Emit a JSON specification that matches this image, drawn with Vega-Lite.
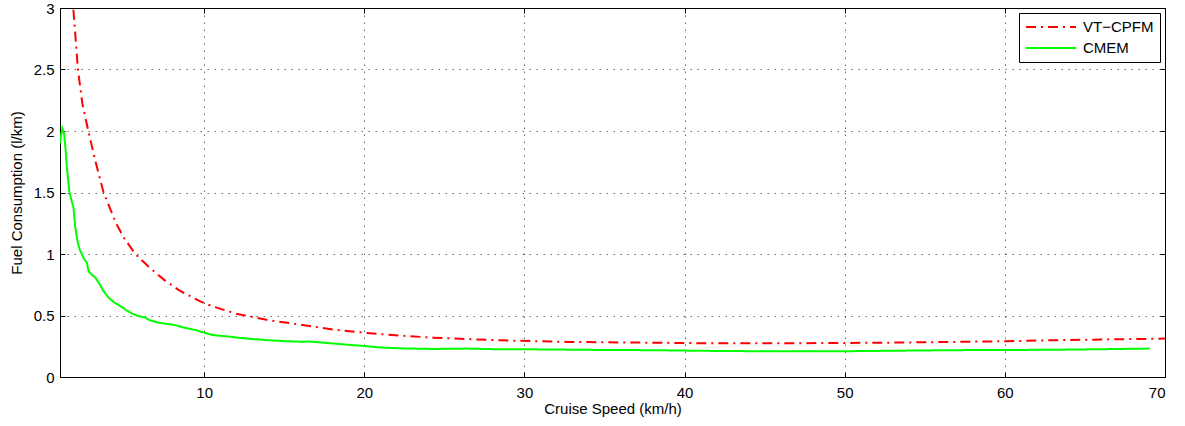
{
  "$schema": "https://vega.github.io/schema/vega-lite/v6.json",
  "width": 1105,
  "height": 369,
  "autosize": "none",
  "padding": {"left": 60, "top": 8, "right": 20, "bottom": 49},
  "background": "white",
  "config": {
    "font": "Liberation Sans",
    "view": {"stroke": "black", "strokeWidth": 1},
    "axis": {
      "labelFont": "Liberation Sans",
      "titleFont": "Liberation Sans",
      "labelFontSize": 15,
      "titleFontSize": 15,
      "titleFontWeight": "normal",
      "labelColor": "black",
      "titleColor": "black",
      "domainColor": "black",
      "tickColor": "black",
      "gridColor": "#444444",
      "gridOpacity": 0.8,
      "gridDash": [1.5, 5.5],
      "gridWidth": 1
    }
  },
  "data": {
    "values": [
      {"speed": 1.5, "fuel": 3.7, "model": "VT−CPFM"},
      {"speed": 1.83, "fuel": 3.0, "model": "VT−CPFM"},
      {"speed": 2.12, "fuel": 2.5, "model": "VT−CPFM"},
      {"speed": 2.4, "fuel": 2.22, "model": "VT−CPFM"},
      {"speed": 2.77, "fuel": 2.0, "model": "VT−CPFM"},
      {"speed": 3.2, "fuel": 1.76, "model": "VT−CPFM"},
      {"speed": 3.72, "fuel": 1.5, "model": "VT−CPFM"},
      {"speed": 4.5, "fuel": 1.25, "model": "VT−CPFM"},
      {"speed": 5.0, "fuel": 1.13, "model": "VT−CPFM"},
      {"speed": 5.7, "fuel": 1.0, "model": "VT−CPFM"},
      {"speed": 6.5, "fuel": 0.9, "model": "VT−CPFM"},
      {"speed": 7.5, "fuel": 0.79, "model": "VT−CPFM"},
      {"speed": 8.5, "fuel": 0.7, "model": "VT−CPFM"},
      {"speed": 9.76, "fuel": 0.615, "model": "VT−CPFM"},
      {"speed": 10.5, "fuel": 0.575, "model": "VT−CPFM"},
      {"speed": 12, "fuel": 0.515, "model": "VT−CPFM"},
      {"speed": 13.9, "fuel": 0.465, "model": "VT−CPFM"},
      {"speed": 16, "fuel": 0.425, "model": "VT−CPFM"},
      {"speed": 18.1, "fuel": 0.385, "model": "VT−CPFM"},
      {"speed": 20, "fuel": 0.36, "model": "VT−CPFM"},
      {"speed": 22.25, "fuel": 0.336, "model": "VT−CPFM"},
      {"speed": 24.3, "fuel": 0.32, "model": "VT−CPFM"},
      {"speed": 26.4, "fuel": 0.309, "model": "VT−CPFM"},
      {"speed": 28.5, "fuel": 0.298, "model": "VT−CPFM"},
      {"speed": 30.5, "fuel": 0.292, "model": "VT−CPFM"},
      {"speed": 32.7, "fuel": 0.285, "model": "VT−CPFM"},
      {"speed": 36.8, "fuel": 0.28, "model": "VT−CPFM"},
      {"speed": 41, "fuel": 0.275, "model": "VT−CPFM"},
      {"speed": 44.1, "fuel": 0.274, "model": "VT−CPFM"},
      {"speed": 47, "fuel": 0.275, "model": "VT−CPFM"},
      {"speed": 50.3, "fuel": 0.277, "model": "VT−CPFM"},
      {"speed": 53.5, "fuel": 0.28, "model": "VT−CPFM"},
      {"speed": 56.6, "fuel": 0.285, "model": "VT−CPFM"},
      {"speed": 60, "fuel": 0.291, "model": "VT−CPFM"},
      {"speed": 62.8, "fuel": 0.298, "model": "VT−CPFM"},
      {"speed": 66, "fuel": 0.305, "model": "VT−CPFM"},
      {"speed": 70, "fuel": 0.312, "model": "VT−CPFM"},
      {"speed": 1.0, "fuel": 1.9, "model": "CMEM"},
      {"speed": 1.06, "fuel": 1.96, "model": "CMEM"},
      {"speed": 1.15, "fuel": 2.02, "model": "CMEM"},
      {"speed": 1.25, "fuel": 1.98, "model": "CMEM"},
      {"speed": 1.35, "fuel": 1.85, "model": "CMEM"},
      {"speed": 1.43, "fuel": 1.7, "model": "CMEM"},
      {"speed": 1.59, "fuel": 1.5, "model": "CMEM"},
      {"speed": 1.75, "fuel": 1.42, "model": "CMEM"},
      {"speed": 1.84, "fuel": 1.38, "model": "CMEM"},
      {"speed": 1.95, "fuel": 1.22, "model": "CMEM"},
      {"speed": 2.1, "fuel": 1.1, "model": "CMEM"},
      {"speed": 2.22, "fuel": 1.04, "model": "CMEM"},
      {"speed": 2.5, "fuel": 0.96, "model": "CMEM"},
      {"speed": 2.68, "fuel": 0.93, "model": "CMEM"},
      {"speed": 2.78, "fuel": 0.86, "model": "CMEM"},
      {"speed": 3.0, "fuel": 0.83, "model": "CMEM"},
      {"speed": 3.2, "fuel": 0.81, "model": "CMEM"},
      {"speed": 3.5, "fuel": 0.75, "model": "CMEM"},
      {"speed": 3.71, "fuel": 0.7, "model": "CMEM"},
      {"speed": 4.0, "fuel": 0.65, "model": "CMEM"},
      {"speed": 4.34, "fuel": 0.61, "model": "CMEM"},
      {"speed": 4.8, "fuel": 0.575, "model": "CMEM"},
      {"speed": 5.17, "fuel": 0.54, "model": "CMEM"},
      {"speed": 5.6, "fuel": 0.51, "model": "CMEM"},
      {"speed": 6.0, "fuel": 0.492, "model": "CMEM"},
      {"speed": 6.3, "fuel": 0.485, "model": "CMEM"},
      {"speed": 6.63, "fuel": 0.46, "model": "CMEM"},
      {"speed": 7.2, "fuel": 0.44, "model": "CMEM"},
      {"speed": 8.08, "fuel": 0.425, "model": "CMEM"},
      {"speed": 8.8, "fuel": 0.4, "model": "CMEM"},
      {"speed": 9.54, "fuel": 0.379, "model": "CMEM"},
      {"speed": 10.0, "fuel": 0.36, "model": "CMEM"},
      {"speed": 10.5, "fuel": 0.342, "model": "CMEM"},
      {"speed": 11.8, "fuel": 0.325, "model": "CMEM"},
      {"speed": 12.25, "fuel": 0.317, "model": "CMEM"},
      {"speed": 13.9, "fuel": 0.3, "model": "CMEM"},
      {"speed": 15, "fuel": 0.292, "model": "CMEM"},
      {"speed": 16, "fuel": 0.287, "model": "CMEM"},
      {"speed": 16.6, "fuel": 0.288, "model": "CMEM"},
      {"speed": 17.2, "fuel": 0.282, "model": "CMEM"},
      {"speed": 18.1, "fuel": 0.272, "model": "CMEM"},
      {"speed": 19, "fuel": 0.262, "model": "CMEM"},
      {"speed": 20, "fuel": 0.252, "model": "CMEM"},
      {"speed": 21, "fuel": 0.24, "model": "CMEM"},
      {"speed": 22.25, "fuel": 0.233, "model": "CMEM"},
      {"speed": 24.3, "fuel": 0.228, "model": "CMEM"},
      {"speed": 26.4, "fuel": 0.231, "model": "CMEM"},
      {"speed": 28.5, "fuel": 0.225, "model": "CMEM"},
      {"speed": 30.5, "fuel": 0.225, "model": "CMEM"},
      {"speed": 34.7, "fuel": 0.22, "model": "CMEM"},
      {"speed": 38, "fuel": 0.218, "model": "CMEM"},
      {"speed": 41, "fuel": 0.213, "model": "CMEM"},
      {"speed": 44.1, "fuel": 0.21, "model": "CMEM"},
      {"speed": 47, "fuel": 0.21, "model": "CMEM"},
      {"speed": 50.3, "fuel": 0.21, "model": "CMEM"},
      {"speed": 53.5, "fuel": 0.214, "model": "CMEM"},
      {"speed": 56.6, "fuel": 0.218, "model": "CMEM"},
      {"speed": 60, "fuel": 0.22, "model": "CMEM"},
      {"speed": 62.8, "fuel": 0.221, "model": "CMEM"},
      {"speed": 66, "fuel": 0.226, "model": "CMEM"},
      {"speed": 69.05, "fuel": 0.231, "model": "CMEM"}
    ]
  },
  "layer": [
    {
      "mark": {"type": "line", "clip": true, "strokeWidth": 2},
      "encoding": {
        "x": {
          "field": "speed", "type": "quantitative",
          "scale": {"domain": [1, 70], "nice": false, "zero": false},
          "axis": {
            "title": "Cruise Speed (km/h)",
            "values": [10, 20, 30, 40, 50, 60, 70],
            "tickSize": -5,
            "labelPadding": 13,
            "titlePadding": 1,
            "grid": true
          }
        },
        "y": {
          "field": "fuel", "type": "quantitative",
          "scale": {"domain": [0, 3], "nice": false},
          "axis": {
            "title": "Fuel Consumption (l/km)",
            "values": [0, 0.5, 1, 1.5, 2, 2.5, 3],
            "format": "~g",
            "tickSize": -5,
            "labelPadding": 11,
            "titlePadding": 9,
            "grid": true
          }
        },
        "color": {
          "field": "model", "type": "nominal",
          "scale": {"domain": ["VT−CPFM", "CMEM"], "range": ["#ff0000", "#00ff00"]},
          "legend": {
            "title": null,
            "orient": "top-right",
            "offset": 5,
            "strokeColor": "black",
            "fillColor": "white",
            "padding": 6,
            "symbolType": "stroke",
            "symbolSize": 2500,
            "symbolStrokeWidth": 2,
            "clipHeight": 16,
            "rowPadding": 5,
            "labelFontSize": 15,
            "labelColor": "black",
            "labelFont": "Liberation Sans",
            "labelOffset": 6
          }
        },
        "strokeDash": {
          "field": "model", "type": "nominal",
          "scale": {"domain": ["VT−CPFM", "CMEM"], "range": [[10, 5, 2, 5], [1, 0]]},
          "legend": null
        }
      }
    },
    {
      "mark": {"type": "line", "opacity": 0},
      "encoding": {
        "x": {
          "field": "speed", "type": "quantitative",
          "axis": {"orient": "top", "title": null, "labels": false, "values": [10, 20, 30, 40, 50, 60, 70], "tickSize": -5, "grid": false}
        },
        "y": {
          "field": "fuel", "type": "quantitative",
          "axis": {"orient": "right", "title": null, "labels": false, "values": [0, 0.5, 1, 1.5, 2, 2.5, 3], "tickSize": -5, "grid": false}
        },
        "detail": {"field": "model"}
      }
    }
  ],
  "resolve": {"axis": {"x": "independent", "y": "independent"}}
}
